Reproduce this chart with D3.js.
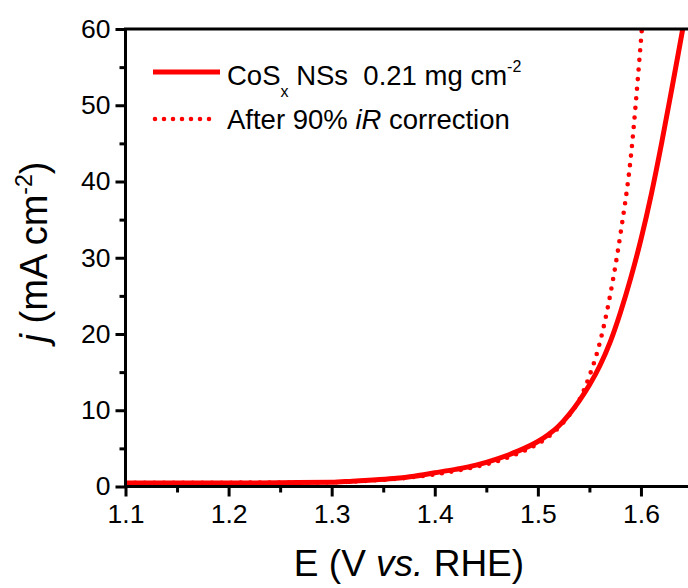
<!DOCTYPE html>
<html>
<head>
<meta charset="utf-8">
<script src="https://cdn.jsdelivr.net/npm/d3@7/dist/d3.min.js"></script>
<style>
  html, body { margin: 0; padding: 0; background: #fff; }
  svg { display: block; font-family: "Liberation Sans", Arial, sans-serif; }
</style>
</head>
<body>
<svg id="chart" width="688" height="588"></svg>
<script>
// Potential (V vs. RHE) and current density (mA cm^-2)
const potential = [1.10, 1.15, 1.20, 1.25, 1.30, 1.32, 1.34, 1.36, 1.38, 1.40,
                   1.42, 1.44, 1.46, 1.48, 1.50, 1.51, 1.52, 1.53, 1.54, 1.55,
                   1.56, 1.57, 1.58, 1.59, 1.60, 1.61, 1.62, 1.63, 1.64, 1.65];
const jRaw = [0.45, 0.45, 0.45, 0.50, 0.55, 0.70, 0.85, 1.05, 1.35, 1.80,
              2.25, 2.80, 3.60, 4.60, 5.90, 6.80, 7.90, 9.40, 11.2, 13.3,
              15.8, 18.9, 22.8, 27.3, 32.4, 38.3, 45.0, 52.2, 59.6, 67.0];

const potentialIR = [1.10, 1.15, 1.20, 1.25, 1.30, 1.32, 1.34, 1.36, 1.38, 1.40,
                     1.42, 1.44, 1.46, 1.48, 1.50, 1.51, 1.52, 1.53, 1.54, 1.55,
                     1.56, 1.57, 1.58, 1.59, 1.60, 1.61];
const jIR = [0.50, 0.50, 0.50, 0.52, 0.55, 0.65, 0.80, 0.98, 1.25, 1.60,
             2.05, 2.60, 3.30, 4.30, 5.60, 6.50, 7.70, 9.30, 11.3, 14.5,
             18.8, 25.0, 33.0, 43.0, 58.5, 76.0];

const xTicks = [1.1, 1.2, 1.3, 1.4, 1.5, 1.6];
const xMinor = [1.15, 1.25, 1.35, 1.45, 1.55];
const yTicks = [0, 10, 20, 30, 40, 50, 60];
const yMinor = [5, 15, 25, 35, 45, 55];

const red = "#ff0000";
const svg = d3.select("#chart");

const x = d3.scaleLinear().domain([1.1, 1.65]).range([125.5, 692.5]);
const y = d3.scaleLinear().domain([0, 60]).range([486.5, 29]);

svg.append("defs").append("clipPath").attr("id", "plot")
  .append("rect")
  .attr("x", x(1.1)).attr("y", y(60))
  .attr("width", x(1.65) - x(1.1)).attr("height", y(0) - y(60));

const line = d3.line().curve(d3.curveMonotoneX);

const g = svg.append("g").attr("clip-path", "url(#plot)");
g.append("path")
  .attr("d", line(potential.map((e, i) => [x(e), y(jRaw[i])])))
  .attr("fill", "none").attr("stroke", red).attr("stroke-width", 5)
  .attr("stroke-linejoin", "round");
g.append("path")
  .attr("d", line(potentialIR.map((e, i) => [x(e), y(jIR[i])])))
  .attr("fill", "none").attr("stroke", red).attr("stroke-width", 4.6)
  .attr("stroke-linecap", "round").attr("stroke-dasharray", "0 9.6");

// axes
function styleAxis(sel) {
  sel.select(".domain").remove();
  sel.selectAll("line").attr("stroke", "#000").attr("stroke-width", 3);
  sel.selectAll("text").attr("fill", "#000").style("font-size", "26.5px");
}

svg.append("g").attr("transform", `translate(0,${y(0)})`)
  .call(d3.axisBottom(x).tickValues(xTicks).tickSize(10).tickPadding(8)
    .tickFormat(d3.format(".1f")))
  .call(styleAxis);
svg.append("g").attr("transform", `translate(0,${y(0)})`)
  .call(d3.axisBottom(x).tickValues(xMinor).tickSize(6).tickFormat(""))
  .call(styleAxis);

svg.append("g").attr("transform", `translate(${x(1.1)},0)`)
  .call(d3.axisLeft(y).tickValues(yTicks).tickSize(10).tickPadding(5))
  .call(styleAxis);
svg.append("g").attr("transform", `translate(${x(1.1)},0)`)
  .call(d3.axisLeft(y).tickValues(yMinor).tickSize(6).tickFormat(""))
  .call(styleAxis);

// frame
svg.append("rect")
  .attr("x", x(1.1)).attr("y", y(60))
  .attr("width", x(1.65) - x(1.1)).attr("height", y(0) - y(60))
  .attr("fill", "none").attr("stroke", "#000").attr("stroke-width", 3);

// axis titles
const xt = svg.append("text")
  .attr("x", 409).attr("y", 576)
  .attr("text-anchor", "middle").style("font-size", "37px").attr("fill", "#000");
xt.append("tspan").text("E (V ");
xt.append("tspan").attr("font-style", "italic").text("vs.");
xt.append("tspan").text(" RHE)");

const yt = svg.append("text")
  .attr("transform", `translate(47,252) rotate(-90)`)
  .attr("text-anchor", "middle").style("font-size", "38px").attr("fill", "#000");
yt.append("tspan").attr("font-style", "italic").text("j");
yt.append("tspan").text(" (mA cm");
yt.append("tspan").attr("dy", -15).style("font-size", "23px").text("-2");
yt.append("tspan").attr("dy", 15).text(")");

// legend
const leg = svg.append("g");
leg.append("line").attr("x1", 153).attr("x2", 220).attr("y1", 72).attr("y2", 72)
  .attr("stroke", red).attr("stroke-width", 5);
leg.append("line").attr("x1", 155).attr("x2", 218).attr("y1", 119).attr("y2", 119)
  .attr("stroke", red).attr("stroke-width", 4.6)
  .attr("stroke-linecap", "round").attr("stroke-dasharray", "0 9");

const t1 = leg.append("text").attr("x", 227).attr("y", 85)
  .style("font-size", "27.5px").attr("fill", "#000");
t1.append("tspan").text("CoS");
t1.append("tspan").attr("dy", 12).style("font-size", "16px").text("x");
t1.append("tspan").attr("dy", -12).text(" NSs\u00a0\u00a00.21 mg cm");
t1.append("tspan").attr("dy", -13).style("font-size", "16px").text("-2");

const t2 = leg.append("text").attr("x", 227).attr("y", 129)
  .style("font-size", "27.5px").attr("fill", "#000");
t2.append("tspan").text("After 90% ");
t2.append("tspan").attr("font-style", "italic").text("iR");
t2.append("tspan").text(" correction");
</script>
</body>
</html>
